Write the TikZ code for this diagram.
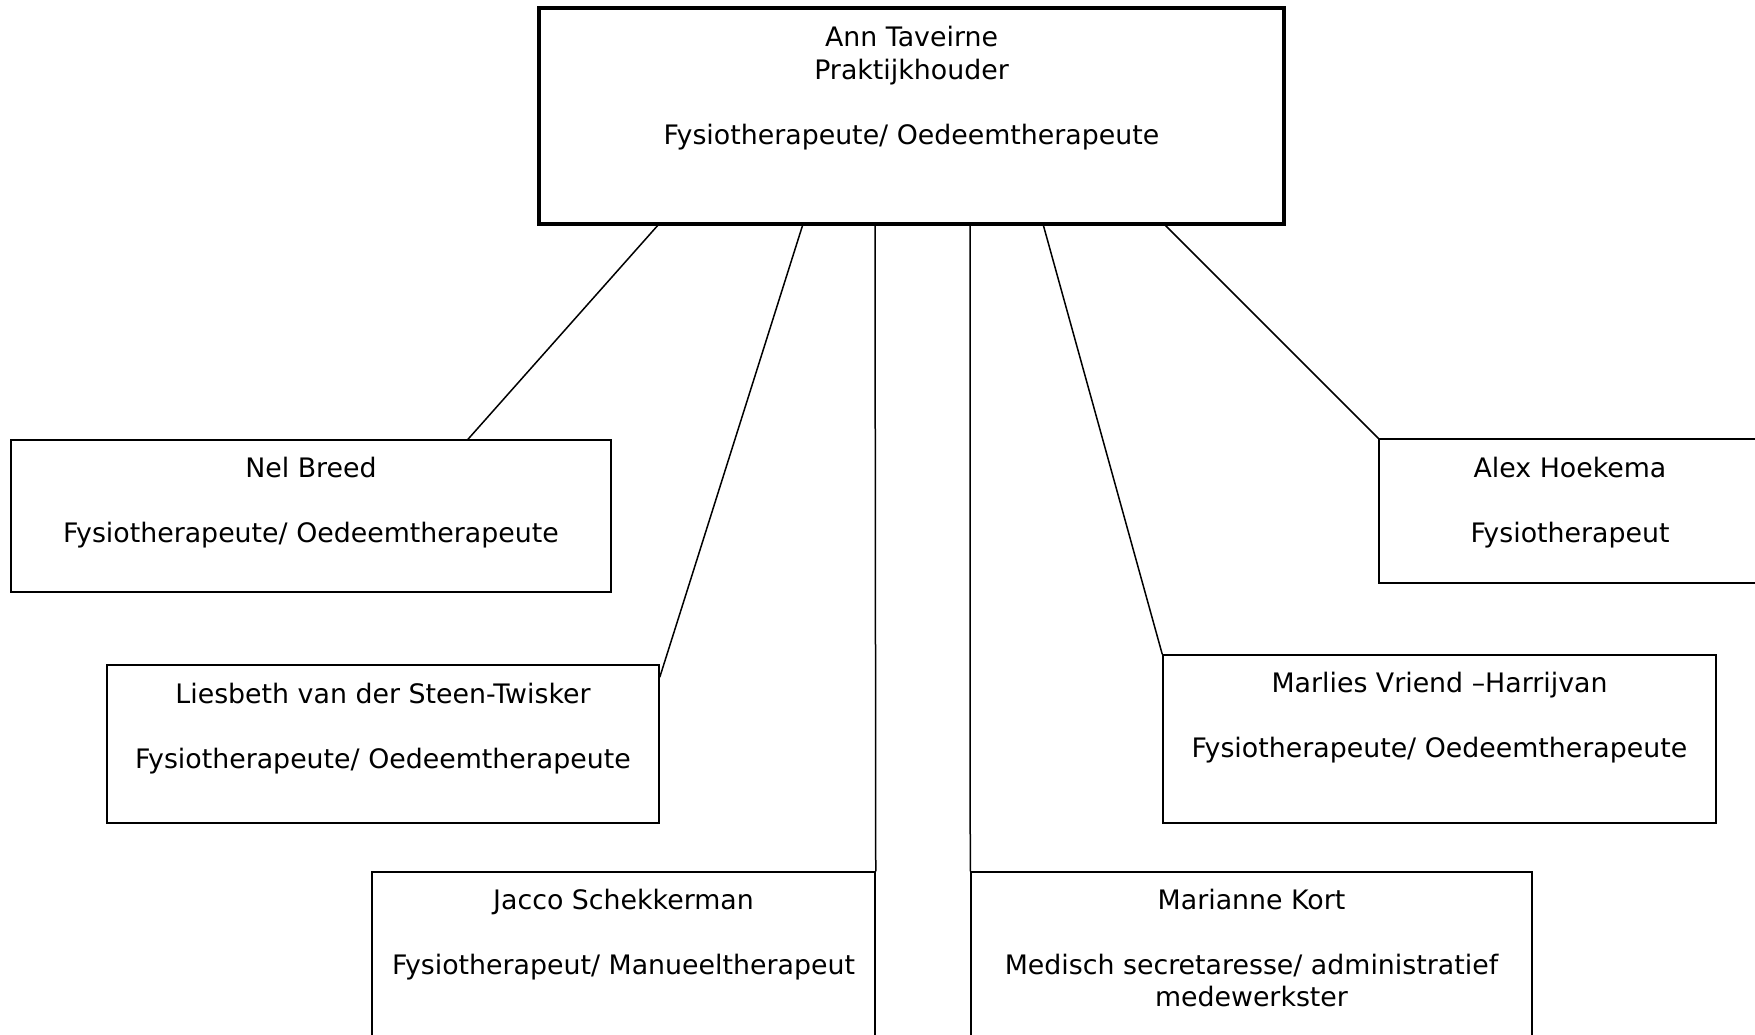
\documentclass[tikz,border=0pt]{standalone}
\usepackage{fontspec}
\setmainfont{DejaVu Sans}
\usetikzlibrary{calc}
\begin{document}
\begin{tikzpicture}[x=1pt,y=-1pt,
  box/.style={draw=black, line width=1.5pt, rectangle, inner sep=0pt},
  topbox/.style={draw=black, line width=3.5pt, rectangle, inner sep=0pt},
  txt/.style={inner sep=0pt, anchor=base, font=\fontsize{26.8pt}{32.5pt}\selectfont},
  conn/.style={draw=black, line width=1.5pt}]
\path[use as bounding box] (0,0) rectangle (1755,1035);
\clip (0,0) rectangle (1755,1035);
% boxes
\node[topbox, minimum width=745pt, minimum height=216pt] (top) at (911.5,116) {};
\node[box, minimum width=600pt, minimum height=152pt] (nel) at (311,516) {};
\node[box, minimum width=552pt, minimum height=158pt] (lies) at (383,744) {};
\node[box, minimum width=503pt, minimum height=188pt] (jac) at (623.5,966) {};
\node[box, minimum width=561pt, minimum height=188pt] (mar) at (1251.5,966) {};
\node[box, minimum width=553pt, minimum height=168pt] (marl) at (1439.5,739) {};
\node[box, minimum width=382pt, minimum height=144pt] (alex) at (1570,511) {};
% texts
\node[txt] (topt) at (911.5,47) {\begin{tabular}[t]{@{}c@{}}Ann Taveirne\\Praktijkhouder\\ \\Fysiotherapeute/ Oedeemtherapeute\end{tabular}};
\node[txt] (nelt) at (311,477) {\begin{tabular}[t]{@{}c@{}}Nel Breed\\ \\Fysiotherapeute/ Oedeemtherapeute\end{tabular}};
\node[txt] (liest) at (383,703) {\begin{tabular}[t]{@{}c@{}}Liesbeth van der Steen-Twisker\\ \\Fysiotherapeute/ Oedeemtherapeute\end{tabular}};
\node[txt] (jact) at (623.5,909) {\begin{tabular}[t]{@{}c@{}}Jacco Schekkerman\\ \\Fysiotherapeut/ Manueeltherapeut\end{tabular}};
\node[txt] (mart) at (1251.5,909) {\begin{tabular}[t]{@{}c@{}}Marianne Kort\\ \\Medisch secretaresse/ administratief\\medewerkster\end{tabular}};
\node[txt] (marlt) at (1439.5,692) {\begin{tabular}[t]{@{}c@{}}Marlies Vriend –Harrijvan\\ \\Fysiotherapeute/ Oedeemtherapeute\end{tabular}};
\node[txt] (alext) at (1570,477) {\begin{tabular}[t]{@{}c@{}}Alex Hoekema\\ \\Fysiotherapeut\end{tabular}};
% connector start points on the bottom edge of the top box
\coordinate (s1) at (659,224);
\coordinate (s2) at (803,224);
\coordinate (s3) at (875,224);
\coordinate (s4) at (970,224);
\coordinate (s5) at (1043,224);
\coordinate (s6) at (1164,224);
\coordinate (e1) at ($(nel.north)+(157,0)$);
\coordinate (e2) at ($(lies.north east)+(0,13)$);
% connectors
\draw[conn] (s1) -- (e1);
\draw[conn] (s2) -- (e2);
\draw[conn] (s3) -- (jac.north east);
\draw[conn] (s4) -- (mar.north west);
\draw[conn] (s5) -- (marl.north west);
\draw[conn] (s6) -- (alex.north west);
\end{tikzpicture}
\end{document}
